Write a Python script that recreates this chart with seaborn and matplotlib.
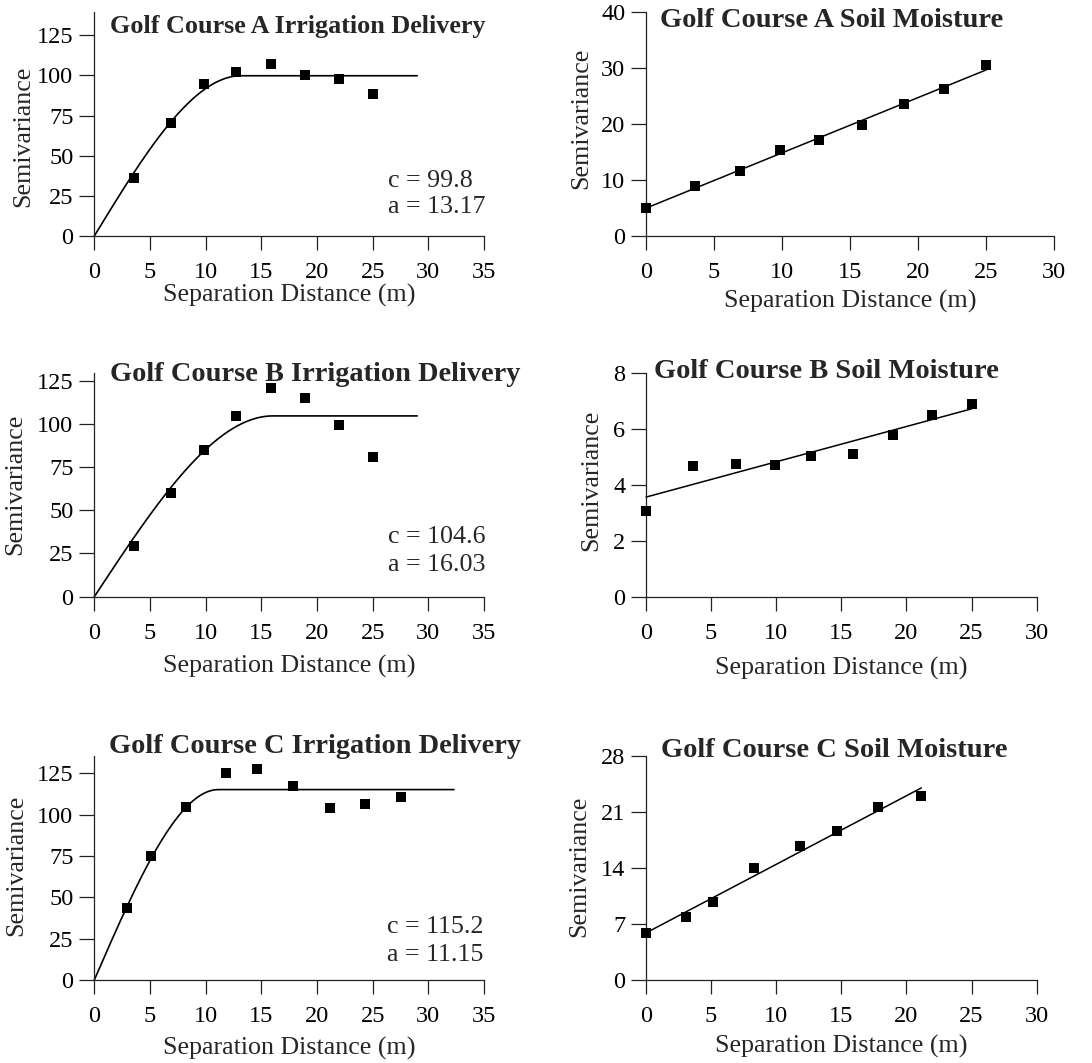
import numpy as np
import pandas as pd
import matplotlib
matplotlib.use("Agg")
import matplotlib.pyplot as plt
import seaborn as sns

# ---- experimental semivariogram data ----
# Irrigation delivery (lag distance m, semivariance)
irr_A_lag = [3.55, 6.9, 9.85, 12.7, 15.9, 18.95, 21.95, 25.0]
irr_A_gam = [36.3, 70.1, 94.5, 102.4, 107.4, 100.1, 97.8, 88.7]
irr_B_lag = [3.6, 6.9, 9.85, 12.7, 15.9, 18.95, 21.95, 25.0]
irr_B_gam = [29.3, 59.8, 84.7, 104.6, 120.8, 114.8, 99.2, 80.8]
irr_C_lag = [2.95, 5.06, 8.23, 11.8, 14.6, 17.85, 21.15, 24.35, 27.57]
irr_C_gam = [43.8, 75.2, 104.4, 125.4, 127.6, 117.1, 103.8, 106.7, 110.9]

# Spherical model parameters (sill c, range a) and extent of the fitted curve
sph_c = [99.8, 104.6, 115.2]
sph_a = [13.17, 16.03, 11.15]
sph_hmax = [29.0, 29.0, 32.3]

# Soil moisture (lag distance m, semivariance)
soil_A_lag = [0.0, 3.62, 6.92, 9.88, 12.7, 15.9, 18.96, 21.9, 25.04]
soil_A_gam = [5.0, 8.86, 11.6, 15.27, 17.18, 19.73, 23.54, 26.27, 30.43]
soil_B_lag = [0.0, 3.61, 6.91, 9.88, 12.7, 15.9, 18.94, 21.96, 25.0]
soil_B_gam = [3.07, 4.67, 4.75, 4.71, 5.02, 5.10, 5.79, 6.50, 6.89]
soil_C_lag = [0.0, 3.05, 5.12, 8.27, 11.83, 14.64, 17.84, 21.14]
soil_C_gam = [5.87, 7.82, 9.69, 13.93, 16.72, 18.55, 21.55, 23.0]

courses = ["A", "B", "C"]
irr_lags = [irr_A_lag, irr_B_lag, irr_C_lag]
irr_gams = [irr_A_gam, irr_B_gam, irr_C_gam]
soil_lags = [soil_A_lag, soil_B_lag, soil_C_lag]
soil_gams = [soil_A_gam, soil_B_gam, soil_C_gam]

irr_yticks = [[0, 25, 50, 75, 100, 125]] * 3
irr_ytop = [139.5, 129.6, 135.7]
soil_yticks = [[0, 10, 20, 30, 40], [0, 2, 4, 6, 8], [0, 7, 14, 21, 28]]
irr_xticks = [0, 5, 10, 15, 20, 25, 30, 35]
soil_xticks = [0, 5, 10, 15, 20, 25, 30]


def spherical(h, c, a):
    h = np.asarray(h, dtype=float)
    r = np.minimum(h / a, 1.0)
    return c * (1.5 * r - 0.5 * r ** 3)


sns.set_style("ticks")
plt.rcParams["font.family"] = ["Liberation Serif", "DejaVu Serif"]
plt.rcParams["axes.linewidth"] = 0.9
plt.rcParams["axes.edgecolor"] = "#222222"

W, H = 1092, 1063
fig = plt.figure(figsize=(W / 100, H / 100), dpi=100)


def px_axes(x0, x1, ytop, ybot):
    return fig.add_axes([x0 / W, 1 - ybot / H, (x1 - x0) / W, (ybot - ytop) / H])


# layout in pixels: (left, right, top, bottom)
left_boxes = [(94.3, 484, 12, 236), (94.3, 484, 372.7, 596.7), (94.3, 484, 755.7, 980)]
right_boxes = [(646, 1053.7, 11.7, 236), (646, 1036.7, 372.7, 596.7), (646, 1036.7, 755.7, 980)]

irr_title_pos = [(298, 33.3, 18.8), (314.7, 380.7, 20.4), (314.7, 753.3, 20.4)]
soil_title_pos = [(831.8, 26.7, 20.5), (826.8, 378.3, 20.5), (834.3, 756.7, 20.5)]
irr_xlab_off = [66, 76, 75]
soil_xlab_off = [72, 78, 73]
irr_ylab = [(-0.182, 0.443), (-0.2035, 0.503), (-0.201, 0.51)]
soil_ylab = [(-0.159, 0.525), (-0.141, 0.521), (-0.171, 0.506)]
irr_note_x = [0.754, 0.754, 0.751]
irr_note_y = [(0.22, 0.101), (0.238, 0.116), (0.208, 0.086)]

TICK_FS = 17.5
LAB_FS = 18.7


def style_axes(ax, xticks, yticks, ytop, xmax):
    ax.set_xlim(0, xmax)
    ax.set_ylim(0, ytop)
    ax.set_xticks(xticks)
    ax.set_yticks(yticks)
    ax.set_xticklabels([str(t) for t in xticks])
    ax.set_yticklabels([str(t) for t in yticks])
    sns.despine(ax=ax)
    ax.tick_params(axis="x", direction="out", length=10, width=0.9,
                   pad=9, labelsize=TICK_FS, colors="#222222", labelcolor="black")
    ax.tick_params(axis="y", direction="out", length=11, width=0.9,
                   pad=4, labelsize=TICK_FS, colors="#222222", labelcolor="black")
    for sp in ax.spines.values():
        sp.set_clip_on(False)


def set_labels(ax, xoff_px, ylab_xy, height_px):
    ax.set_xlabel("Separation Distance (m)", fontsize=LAB_FS)
    ax.set_ylabel("Semivariance", fontsize=LAB_FS)
    ax.xaxis.label.set_va("baseline")
    ax.xaxis.set_label_coords(0.5, -xoff_px / height_px)
    ax.yaxis.label.set_va("center")
    ax.yaxis.set_label_coords(*ylab_xy)


for i, course in enumerate(courses):
    # ---- irrigation delivery with spherical model ----
    x0, x1, yt, yb = left_boxes[i]
    ax = px_axes(x0, x1, yt, yb)
    obs = pd.DataFrame({"lag": irr_lags[i], "gamma": irr_gams[i]})
    h = np.linspace(0, sph_hmax[i], 300)
    model = pd.DataFrame({"lag": h, "gamma": spherical(h, sph_c[i], sph_a[i])})
    sns.lineplot(data=model, x="lag", y="gamma", ax=ax, color="black",
                 linewidth=1.2, clip_on=False)
    sns.scatterplot(data=obs, x="lag", y="gamma", ax=ax, marker="s", s=46,
                    color="black", edgecolor="black", linewidth=0, clip_on=False,
                    zorder=3)
    style_axes(ax, irr_xticks, irr_yticks[i], irr_ytop[i], 35)
    set_labels(ax, irr_xlab_off[i], irr_ylab[i], yb - yt)
    cy, ay = irr_note_y[i]
    ax.text(irr_note_x[i], cy, f"c = {sph_c[i]:.1f}", transform=ax.transAxes,
            ha="left", va="baseline", fontsize=LAB_FS)
    ax.text(irr_note_x[i], ay, f"a = {sph_a[i]:.2f}", transform=ax.transAxes,
            ha="left", va="baseline", fontsize=LAB_FS)
    tx, ty, tfs = irr_title_pos[i]
    fig.text(tx / W, 1 - ty / H, f"Golf Course {course} Irrigation Delivery",
             ha="center", va="baseline", fontsize=tfs, fontweight="bold")

    # ---- soil moisture with linear trend ----
    x0, x1, yt, yb = right_boxes[i]
    ax = px_axes(x0, x1, yt, yb)
    obs = pd.DataFrame({"lag": soil_lags[i], "gamma": soil_gams[i]})
    sns.regplot(data=obs, x="lag", y="gamma", ax=ax, ci=None, marker="s",
                color="black",
                scatter_kws={"s": 46, "linewidths": 0, "alpha": 1.0,
                             "clip_on": False, "zorder": 3},
                line_kws={"linewidth": 1.1, "clip_on": False})
    style_axes(ax, soil_xticks, soil_yticks[i], soil_yticks[i][-1], 30)
    set_labels(ax, soil_xlab_off[i], soil_ylab[i], yb - yt)
    tx, ty, tfs = soil_title_pos[i]
    fig.text(tx / W, 1 - ty / H, f"Golf Course {course} Soil Moisture",
             ha="center", va="baseline", fontsize=tfs, fontweight="bold")

fig.savefig("out.png", dpi=100, facecolor="white")
